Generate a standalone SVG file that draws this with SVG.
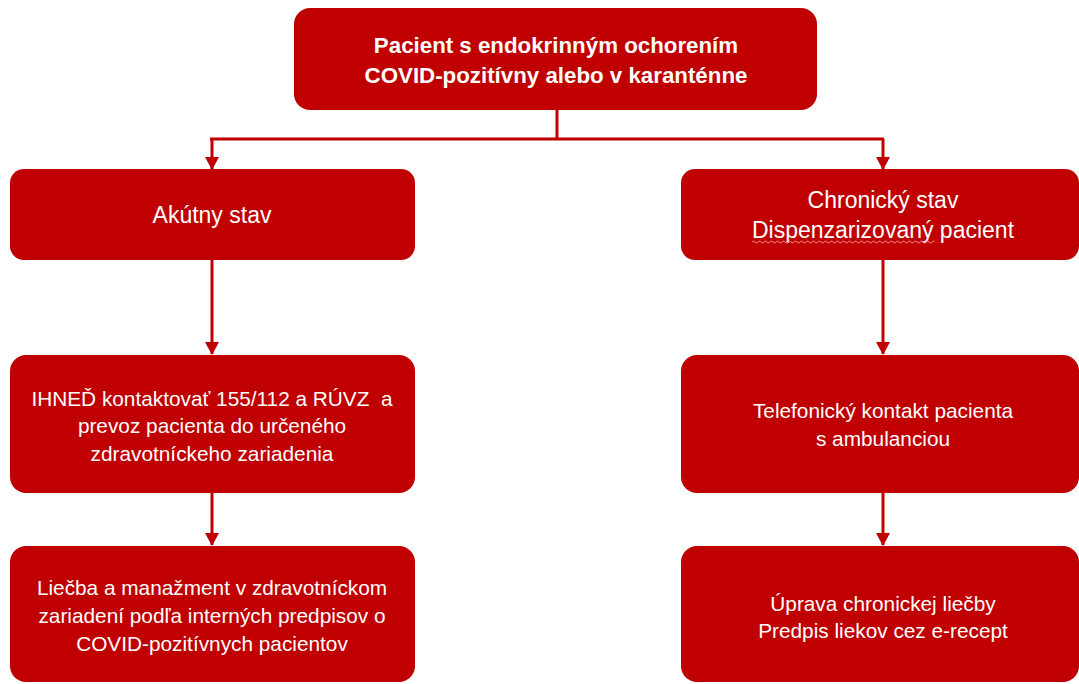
<svg xmlns="http://www.w3.org/2000/svg" width="1079" height="684" viewBox="0 0 1079 684">
<style>
.box{fill:#C00000;}
.t{font-family:"Liberation Sans",Arial,sans-serif;fill:#ffffff;text-anchor:middle;dominant-baseline:central;white-space:pre;}
.b{font-weight:bold;font-size:22.3px;}
.h{font-size:23px;}
.s{font-size:20.8px;}
.c{stroke:#C00000;stroke-width:3;fill:none;}
.ah{fill:#C00000;}
</style>
<defs>
<marker id="arr" markerWidth="14" markerHeight="14" refX="12" refY="7" orient="auto" markerUnits="userSpaceOnUse">
<path d="M0,0 L13,7 L0,14 z" class="ah"/>
</marker>
</defs>
<rect width="1079" height="684" fill="#ffffff"/>
<g id="connectors">
<path class="c" d="M557,110 V139"/>
<path class="c" d="M210,139 H884"/>
<path class="c" d="M212,139 V169" marker-end="url(#arr)"/>
<path class="c" d="M883,139 V169" marker-end="url(#arr)"/>
<path class="c" d="M212,260 V354" marker-end="url(#arr)"/>
<path class="c" d="M883,260 V354" marker-end="url(#arr)"/>
<path class="c" d="M212,493 V545" marker-end="url(#arr)"/>
<path class="c" d="M883,493 V545" marker-end="url(#arr)"/>
</g>
<g id="node-top">
<rect class="box" x="294" y="8" width="523" height="102" rx="16"/>
<text class="t b" x="556" y="45">Pacient s endokrinným ochorením</text>
<text class="t b" x="556" y="75">COVID-pozitívny alebo v karanténne</text>
</g>
<g id="node-akutny">
<rect class="box" x="10" y="169" width="405" height="91" rx="14"/>
<text class="t h" x="212" y="215">Akútny stav</text>
</g>
<g id="node-chronicky">
<rect class="box" x="681" y="169" width="398" height="91" rx="14"/>
<text class="t h" x="883" y="200">Chronický stav</text>
<text class="t h" x="883" y="230">Dispenzarizovaný pacient</text>
<path d="M752,242 q1.5,-2 3,0 t3,0 t3,0 t3,0 t3,0 t3,0 t3,0 t3,0 t3,0 t3,0 t3,0 t3,0 t3,0 t3,0 t3,0 t3,0 t3,0 t3,0 t3,0 t3,0 t3,0 t3,0 t3,0 t3,0 t3,0 t3,0 t3,0 t3,0 t3,0 t3,0 t3,0 t3,0 t3,0 t3,0 t3,0 t3,0 t3,0 t3,0 t3,0 t3,0 t3,0 t3,0 t3,0 t3,0 t3,0 t3,0 t3,0 t3,0 t3,0 t3,0 t3,0 t3,0 t3,0 t3,0 t3,0 t3,0 t3,0 t3,0 t3,0 t3,0 t3,0" fill="none" stroke="#f08a8a" stroke-width="1"/>
</g>
<g id="node-ihned">
<rect class="box" x="10" y="355" width="405" height="138" rx="16"/>
<text class="t s" x="212" y="398" xml:space="preserve">IHNEĎ kontaktovať 155/112 a RÚVZ  a</text>
<text class="t s" x="212" y="425">prevoz pacienta do určeného</text>
<text class="t s" x="212" y="453">zdravotníckeho zariadenia</text>
</g>
<g id="node-telefon">
<rect class="box" x="681" y="355" width="398" height="138" rx="16"/>
<text class="t s" x="883" y="410">Telefonický kontakt pacienta</text>
<text class="t s" x="883" y="438">s ambulanciou</text>
</g>
<g id="node-liecba">
<rect class="box" x="10" y="546" width="405" height="136" rx="16"/>
<text class="t s" x="212" y="587">Liečba a manažment v zdravotníckom</text>
<text class="t s" x="212" y="615">zariadení podľa interných predpisov o</text>
<text class="t s" x="212" y="643">COVID-pozitívnych pacientov</text>
</g>
<g id="node-uprava">
<rect class="box" x="681" y="546" width="398" height="136" rx="16"/>
<text class="t s" x="883" y="603">Úprava chronickej liečby</text>
<text class="t s" x="883" y="630">Predpis liekov cez e-recept</text>
</g>
</svg>
